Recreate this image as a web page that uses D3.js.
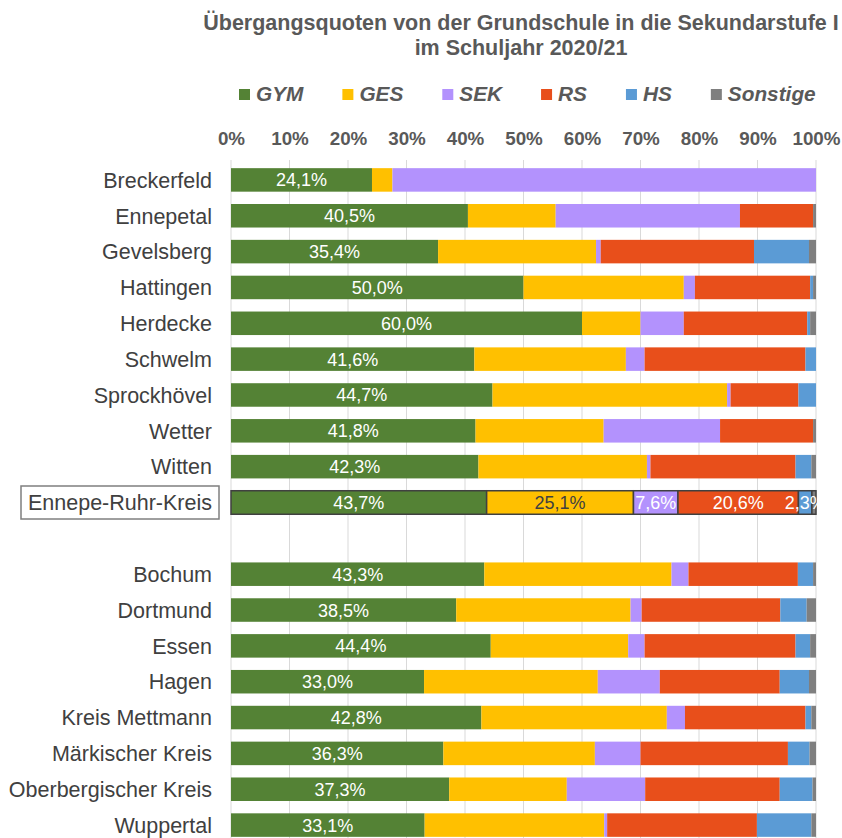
<!DOCTYPE html>
<html>
<head>
<meta charset="utf-8">
<script src="https://cdn.jsdelivr.net/npm/d3@7"></script>
<style>
  body { margin: 0; background: #fff; }
  text { font-family: "Liberation Sans", Arial, sans-serif; }
</style>
</head>
<body>
<div class="chart"></div>
<script>
// chart data
var categories = ["Breckerfeld", "Ennepetal", "Gevelsberg", "Hattingen", "Herdecke", "Schwelm",
  "Sprockhövel", "Wetter", "Witten", "Ennepe-Ruhr-Kreis", " ",
  "Bochum", "Dortmund", "Essen", "Hagen", "Kreis Mettmann", "Märkischer Kreis",
  "Oberbergischer Kreis", "Wuppertal"];
var gym = [24.1, 40.5, 35.4, 50.0, 60.0, 41.6, 44.7, 41.8, 42.3, 43.7, 0, 43.3, 38.5, 44.4, 33.0, 42.8, 36.3, 37.3, 33.1];
var ges = [3.5, 15.0, 27.0, 27.4, 10.0, 25.9, 40.1, 21.9, 28.8, 25.1, 0, 32.0, 29.8, 23.5, 29.7, 31.7, 25.9, 20.1, 30.7];
var sek = [72.4, 31.5, 0.8, 1.9, 7.4, 3.2, 0.6, 19.9, 0.6, 7.6, 0, 2.9, 1.9, 2.8, 10.6, 3.1, 7.8, 13.4, 0.5];
var rs = [0, 12.5, 26.2, 19.7, 21.1, 27.5, 11.6, 15.9, 24.8, 20.6, 0, 18.7, 23.7, 25.8, 20.5, 20.6, 25.2, 23.0, 25.6];
var hs = [0, 0, 9.4, 0.5, 0.5, 1.8, 3.0, 0, 2.7, 2.3, 0, 2.6, 4.5, 2.5, 5.0, 1.0, 3.7, 5.6, 9.3];
var sonstige = [0, 0.5, 1.2, 0.5, 1.0, 0, 0, 0.5, 0.8, 0.7, 0, 0.5, 1.6, 1.0, 1.2, 0.8, 1.1, 0.6, 0.8];
var seriesNames = ["GYM", "GES", "SEK", "RS", "HS", "Sonstige"];
var tickValues = [0, 10, 20, 30, 40, 50, 60, 70, 80, 90, 100];
var totalRow = "Ennepe-Ruhr-Kreis";

var colors = ["#548235", "#ffc000", "#b392fd", "#e84f1b", "#5b9bd5", "#7f7f7f"];

var svgWidth = 842;
var svgHeight = 838;

var svg = d3
  .select(".chart")
  .append("svg")
  .attr("width", svgWidth)
  .attr("height", svgHeight);

// build rows for the stack
var rows = categories.map(function (c, i) {
  return { cat: c, GYM: gym[i], GES: ges[i], SEK: sek[i], RS: rs[i], HS: hs[i], Sonstige: sonstige[i] };
});
var stacked = d3.stack().keys(seriesNames)(rows);

// scales
var xScale = d3.scaleLinear().domain([0, 100]).range([231, 816]);
var yScale = d3.scaleBand().domain(categories).range([162, 843]).paddingInner(0.344).paddingOuter(0.172);

var deLocale = d3.formatLocale({ decimal: ",", thousands: ".", grouping: [3], currency: ["", " €"] });
var fmt = deLocale.format(".1f");

// gridlines
svg.append("g")
  .selectAll("line")
  .data(tickValues)
  .enter()
  .append("line")
  .attr("x1", (d) => xScale(d))
  .attr("x2", (d) => xScale(d))
  .attr("y1", 160)
  .attr("y2", svgHeight)
  .attr("stroke", "#d9d9d9")
  .attr("stroke-width", 1);

// top axis tick labels
var topAxis = d3.axisTop(xScale).tickValues(tickValues).tickFormat((d) => d + "%").tickSize(0).tickPadding(0);
var axisG = svg.append("g")
  .attr("transform", "translate(0, 145)")
  .call(topAxis);
axisG.select(".domain").remove();
axisG.selectAll("text")
  .attr("dy", 0)
  .attr("fill", "#595959")
  .style("font-size", "18.8px")
  .style("font-weight", "bold")
  .style("font-family", "'Liberation Sans', Arial, sans-serif");

// bars
var seriesG = svg.append("g")
  .selectAll("g")
  .data(stacked)
  .enter()
  .append("g")
  .attr("fill", (d, i) => colors[i]);

seriesG.selectAll("rect")
  .data((d) => d.filter((p) => p.data.cat.trim() !== ""))
  .enter()
  .append("rect")
  .attr("x", (d) => xScale(d[0]))
  .attr("y", (d) => yScale(d.data.cat))
  .attr("width", (d) => Math.max(0, xScale(d[1]) - xScale(d[0])))
  .attr("height", yScale.bandwidth())
  .attr("stroke", (d) => (d.data.cat === totalRow ? "#404040" : "none"))
  .attr("stroke-width", 1.5);

// data labels: GYM for every row, all series for the total row
var clip = svg.append("clipPath").attr("id", "plotclip");
clip.append("rect").attr("x", 0).attr("y", 0).attr("width", xScale(100) + 4).attr("height", svgHeight);

var labels = [];
stacked.forEach(function (s, si) {
  s.forEach(function (p) {
    var c = p.data.cat;
    if (c.trim() === "") return;
    var v = p[1] - p[0];
    if (si === 0 || (c === totalRow && si < 5)) {
      labels.push({ cat: c, v: v, mid: (p[0] + p[1]) / 2, si: si });
    }
  });
});

svg.append("g")
  .attr("clip-path", "url(#plotclip)")
  .selectAll("text")
  .data(labels)
  .enter()
  .append("text")
  .attr("x", (d) => xScale(d.mid))
  .attr("y", (d) => yScale(d.cat) + yScale.bandwidth() / 2)
  .attr("dy", "0.36em")
  .attr("text-anchor", "middle")
  .attr("fill", (d) => (d.si === 1 ? "#404040" : "#ffffff"))
  .style("font-size", "18px")
  .text((d) => fmt(d.v) + "%");

// category labels
var catG = svg.append("g");
catG.selectAll("text")
  .data(categories.filter((c) => c.trim() !== ""))
  .enter()
  .append("text")
  .attr("x", 212)
  .attr("y", (d) => yScale(d) + yScale.bandwidth() / 2)
  .attr("dy", "0.36em")
  .attr("text-anchor", "end")
  .attr("fill", "#404040")
  .style("font-size", "21.5px")
  .text((d) => d);

// box round the total row label
svg.append("rect")
  .attr("x", 21)
  .attr("y", yScale(totalRow) + yScale.bandwidth() / 2 - 16.5)
  .attr("width", 198)
  .attr("height", 33)
  .attr("fill", "none")
  .attr("stroke", "#7f7f7f")
  .attr("stroke-width", 1.5);

// title
var title = svg.append("text")
  .attr("x", 521)
  .attr("y", 30)
  .attr("text-anchor", "middle")
  .attr("fill", "#595959")
  .style("font-size", "21.5px")
  .style("font-weight", "bold");
title.append("tspan").attr("x", 521).text("Übergangsquoten von der Grundschule in die Sekundarstufe I");
title.append("tspan").attr("x", 521).attr("dy", 25).text("im Schuljahr 2020/21");

// legend
var legend = svg.append("g").attr("transform", "translate(239, 0)");
var lx = 0;
seriesNames.forEach(function (name, i) {
  var item = legend.append("g").attr("transform", `translate(${lx}, 0)`);
  item.append("rect")
    .attr("x", 0)
    .attr("y", 89)
    .attr("width", 11)
    .attr("height", 11)
    .attr("fill", colors[i]);
  var t = item.append("text")
    .attr("x", 17)
    .attr("y", 101)
    .attr("fill", "#595959")
    .style("font-size", "20.8px")
    .style("font-weight", "bold")
    .style("font-style", "italic")
    .text(name);
  lx += 17 + t.node().getComputedTextLength() + 39;
});
</script>
</body>
</html>
